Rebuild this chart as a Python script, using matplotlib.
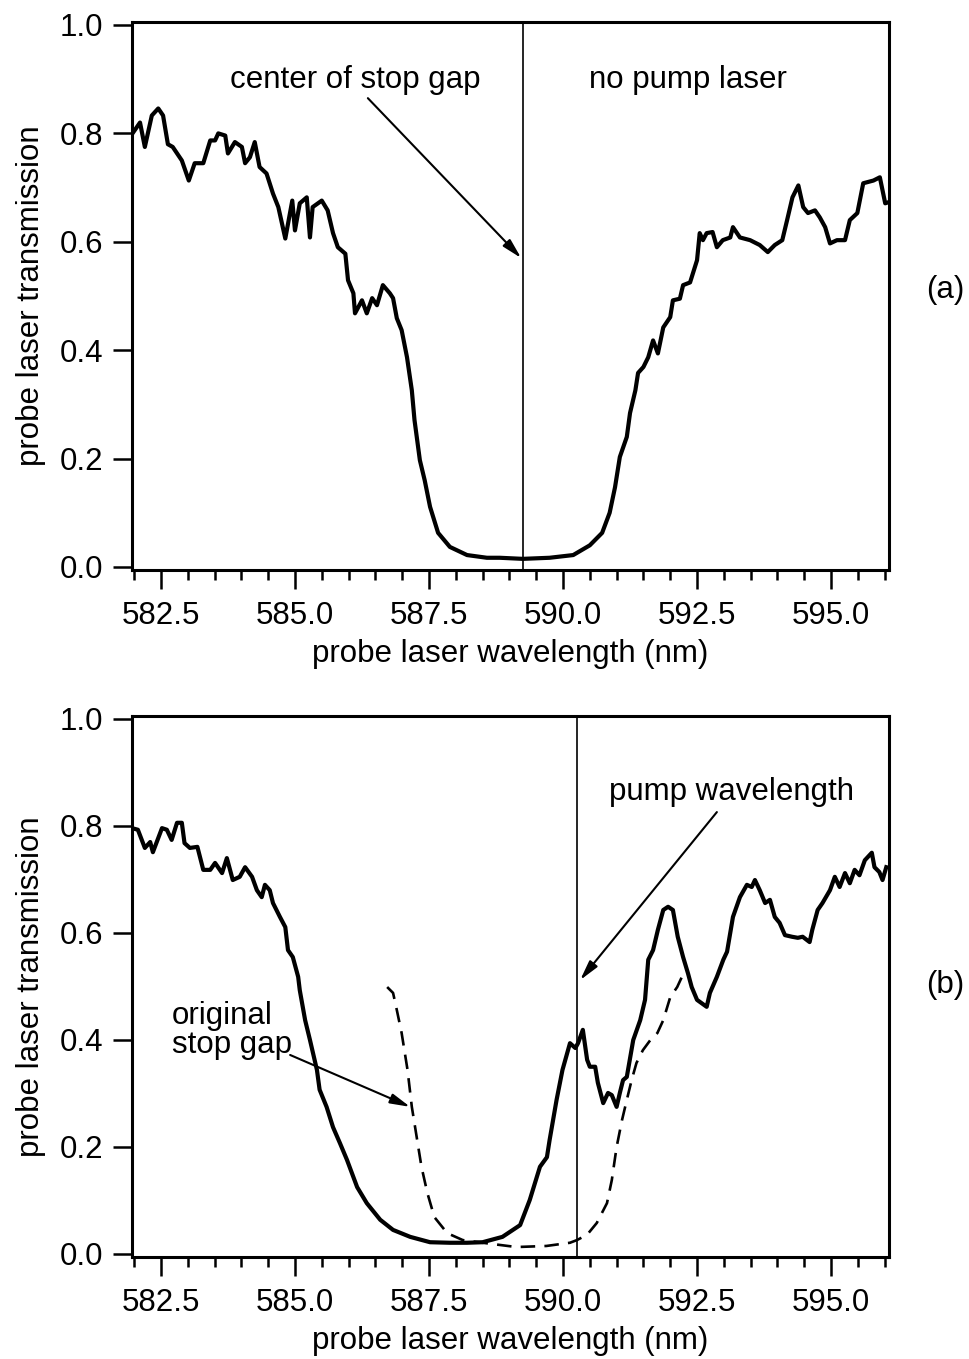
import matplotlib
matplotlib.use("Agg")
import matplotlib.pyplot as plt
from matplotlib.ticker import MultipleLocator, FormatStrFormatter

plt.rcParams['font.family'] = ['Liberation Sans', 'DejaVu Sans']

# ---------------- data: panel (a), no pump laser ----------------
wl_a = [581.97, 582.11, 582.20, 582.33, 582.45, 582.54, 582.63, 582.72, 582.89, 583.02,
        583.13, 583.29, 583.42, 583.51, 583.57, 583.70, 583.75, 583.88, 584.01, 584.07,
        584.16, 584.25, 584.34, 584.47, 584.59, 584.69, 584.82, 584.95, 585.00, 585.09,
        585.22, 585.28, 585.33, 585.50, 585.61, 585.71, 585.80, 585.94, 585.99, 586.09,
        586.12, 586.25, 586.34, 586.44, 586.53, 586.64, 586.77, 586.83, 586.90, 586.99,
        587.09, 587.18, 587.23, 587.33, 587.42, 587.52, 587.67, 587.89, 588.21, 588.58,
        588.82, 589.25, 589.75, 590.19, 590.50, 590.73, 590.87, 590.97, 591.06, 591.19,
        591.25, 591.35, 591.40, 591.50, 591.59, 591.68, 591.77, 591.87, 592.00, 592.05,
        592.18, 592.24, 592.37, 592.50, 592.55, 592.61, 592.68, 592.79, 592.87, 592.98,
        593.12, 593.17, 593.30, 593.49, 593.67, 593.82, 593.95, 594.09, 594.18, 594.28,
        594.39, 594.48, 594.57, 594.70, 594.79, 594.89, 594.98, 595.11, 595.26, 595.35,
        595.49, 595.60, 595.79, 595.91, 596.01, 596.07]
tr_a = [0.800, 0.820, 0.775, 0.833, 0.846, 0.833, 0.780, 0.775, 0.750, 0.713,
        0.745, 0.745, 0.787, 0.787, 0.800, 0.796, 0.763, 0.784, 0.775, 0.745,
        0.756, 0.784, 0.738, 0.726, 0.689, 0.664, 0.606, 0.676, 0.621, 0.671,
        0.682, 0.608, 0.664, 0.676, 0.658, 0.616, 0.590, 0.578, 0.529, 0.505,
        0.468, 0.492, 0.468, 0.496, 0.483, 0.520, 0.505, 0.496, 0.459, 0.437,
        0.387, 0.326, 0.271, 0.197, 0.160, 0.111, 0.063, 0.037, 0.022, 0.017,
        0.017, 0.015, 0.017, 0.022, 0.040, 0.063, 0.100, 0.147, 0.203, 0.240,
        0.284, 0.326, 0.358, 0.369, 0.387, 0.418, 0.394, 0.442, 0.461, 0.492,
        0.495, 0.520, 0.525, 0.566, 0.616, 0.603, 0.616, 0.618, 0.590, 0.603,
        0.608, 0.627, 0.608, 0.603, 0.594, 0.581, 0.594, 0.603, 0.640, 0.682,
        0.704, 0.664, 0.653, 0.658, 0.645, 0.627, 0.597, 0.603, 0.603, 0.640,
        0.653, 0.708, 0.713, 0.719, 0.671, 0.673]

# ---------------- data: panel (b), with pump laser ----------------
wl_b = [581.96, 582.07, 582.20, 582.30, 582.35, 582.52, 582.61, 582.70, 582.80, 582.89,
        582.94, 583.04, 583.18, 583.29, 583.42, 583.51, 583.64, 583.73, 583.84, 583.97,
        584.07, 584.20, 584.29, 584.38, 584.44, 584.53, 584.59, 584.72, 584.82, 584.87,
        584.96, 585.06, 585.09, 585.19, 585.28, 585.41, 585.46, 585.59, 585.71, 585.84,
        585.97, 586.16, 586.34, 586.59, 586.83, 587.15, 587.52, 587.89, 588.21, 588.50,
        588.87, 589.20, 589.38, 589.57, 589.70, 589.75, 589.88, 589.99, 590.13, 590.23,
        590.28, 590.37, 590.45, 590.50, 590.60, 590.65, 590.75, 590.84, 590.91, 591.00,
        591.06, 591.12, 591.19, 591.31, 591.44, 591.53, 591.59, 591.68, 591.77, 591.87,
        591.96, 592.05, 592.14, 592.24, 592.33, 592.40, 592.50, 592.68, 592.74, 592.87,
        592.99, 593.06, 593.17, 593.30, 593.43, 593.52, 593.58, 593.67, 593.77, 593.86,
        593.95, 594.04, 594.14, 594.27, 594.38, 594.47, 594.60, 594.65, 594.75, 594.84,
        594.98, 595.07, 595.16, 595.26, 595.35, 595.44, 595.53, 595.63, 595.76, 595.81,
        595.90, 595.96, 596.03]
tr_b = [0.796, 0.793, 0.759, 0.770, 0.751, 0.796, 0.793, 0.774, 0.806, 0.806,
        0.768, 0.759, 0.761, 0.718, 0.718, 0.731, 0.712, 0.740, 0.699, 0.705,
        0.723, 0.705, 0.680, 0.667, 0.690, 0.680, 0.656, 0.630, 0.611, 0.568,
        0.555, 0.518, 0.493, 0.437, 0.400, 0.344, 0.307, 0.275, 0.237, 0.207,
        0.176, 0.125, 0.095, 0.064, 0.045, 0.032, 0.022, 0.021, 0.021, 0.022,
        0.032, 0.054, 0.101, 0.163, 0.181, 0.213, 0.288, 0.344, 0.394, 0.385,
        0.394, 0.419, 0.363, 0.350, 0.350, 0.320, 0.282, 0.301, 0.297, 0.275,
        0.301, 0.325, 0.331, 0.400, 0.437, 0.475, 0.550, 0.568, 0.606, 0.643,
        0.649, 0.643, 0.593, 0.555, 0.525, 0.499, 0.475, 0.462, 0.488, 0.518,
        0.550, 0.565, 0.630, 0.667, 0.690, 0.686, 0.699, 0.680, 0.656, 0.662,
        0.630, 0.619, 0.596, 0.593, 0.591, 0.593, 0.583, 0.606, 0.643, 0.656,
        0.680, 0.705, 0.686, 0.712, 0.693, 0.718, 0.708, 0.736, 0.750, 0.723,
        0.714, 0.699, 0.723]

# original stop gap (dashed, panel b)
wl_orig = [586.72, 586.83, 586.90, 586.99, 587.10, 587.18, 587.27, 587.36, 587.47, 587.60,
           587.84, 588.13, 588.50, 589.13, 589.69, 590.13, 590.26, 590.45, 590.63, 590.82,
           590.91, 591.00, 591.10, 591.19, 591.28, 591.37, 591.49, 591.63, 591.76, 591.87,
           592.00, 592.13, 592.25]
tr_orig = [0.499, 0.488, 0.456, 0.413, 0.344, 0.275, 0.219, 0.163, 0.114, 0.069,
           0.039, 0.026, 0.021, 0.013, 0.015, 0.021, 0.026, 0.036, 0.058, 0.095,
           0.138, 0.200, 0.250, 0.288, 0.325, 0.357, 0.381, 0.400, 0.413, 0.437,
           0.480, 0.499, 0.525]

center_gap_wl = 589.25
pump_wl = 590.26

xlabel = "probe laser wavelength (nm)"
ylabel = "probe laser transmission"

FS = 22.5

fig = plt.figure(figsize=(9.69, 13.59), dpi=100)
ax_a = fig.add_axes([0.1362, 0.5808, 0.7812, 0.4032])
ax_b = fig.add_axes([0.1362, 0.0753, 0.7812, 0.3980])


def style(ax):
    ax.set_xlim(581.96, 596.08)
    ax.set_ylim(-0.005, 1.006)
    ax.xaxis.set_major_locator(MultipleLocator(2.5))
    ax.xaxis.set_minor_locator(MultipleLocator(0.5))
    ax.yaxis.set_major_locator(MultipleLocator(0.2))
    ax.xaxis.set_major_formatter(FormatStrFormatter('%.1f'))
    ax.yaxis.set_major_formatter(FormatStrFormatter('%.1f'))
    ax.tick_params(axis='both', which='major', direction='out', length=13.5,
                   width=1.8, labelsize=FS, pad=7)
    ax.tick_params(axis='x', which='major', pad=9)
    ax.tick_params(axis='x', which='minor', direction='out', length=7, width=1.8)
    ax.tick_params(top=False, right=False)
    for s in ax.spines.values():
        s.set_linewidth(2.2)
    ax.set_xlabel(xlabel, fontsize=FS, labelpad=6)
    ax.set_ylabel(ylabel, fontsize=FS, labelpad=10)


arrow_kw = dict(arrowstyle='-|>,head_length=1.2,head_width=0.3', lw=1.5,
                color='black', shrinkA=0, shrinkB=0)

# panel (a)
style(ax_a)
ax_a.plot(wl_a, tr_a, color='black', lw=3.0, solid_joinstyle='round')
ax_a.axvline(center_gap_wl, color='black', lw=1.2)
ax_a.annotate('', xy=(589.22, 0.57), xytext=(586.36, 0.865), arrowprops=arrow_kw)
ax_a.text(586.12, 0.898, "center of stop gap", fontsize=FS, ha='center', va='center')
ax_a.text(592.33, 0.898, "no pump laser", fontsize=FS, ha='center', va='center')

# panel (b)
style(ax_b)
ax_b.plot(wl_b, tr_b, color='black', lw=3.0, solid_joinstyle='round')
ax_b.plot(wl_orig, tr_orig, color='black', lw=1.9, linestyle=(0, (5.5, 3.5)))
ax_b.axvline(pump_wl, color='black', lw=1.2)
ax_b.annotate('', xy=(590.32, 0.512), xytext=(592.87, 0.826), arrowprops=arrow_kw)
ax_b.text(593.15, 0.864, "pump wavelength", fontsize=FS, ha='center', va='center')
ax_b.text(582.71, 0.417, "original\nstop gap", fontsize=FS, ha='left', va='center',
          linespacing=0.95)
ax_b.annotate('', xy=(587.15, 0.275), xytext=(584.91, 0.372), arrowprops=arrow_kw)

fig.text(945 / 969, 1 - 290 / 1359, "(a)", fontsize=FS, ha='center', va='center')
fig.text(945 / 969, 1 - 985 / 1359, "(b)", fontsize=FS, ha='center', va='center')

fig.savefig("out.png", dpi=100)
